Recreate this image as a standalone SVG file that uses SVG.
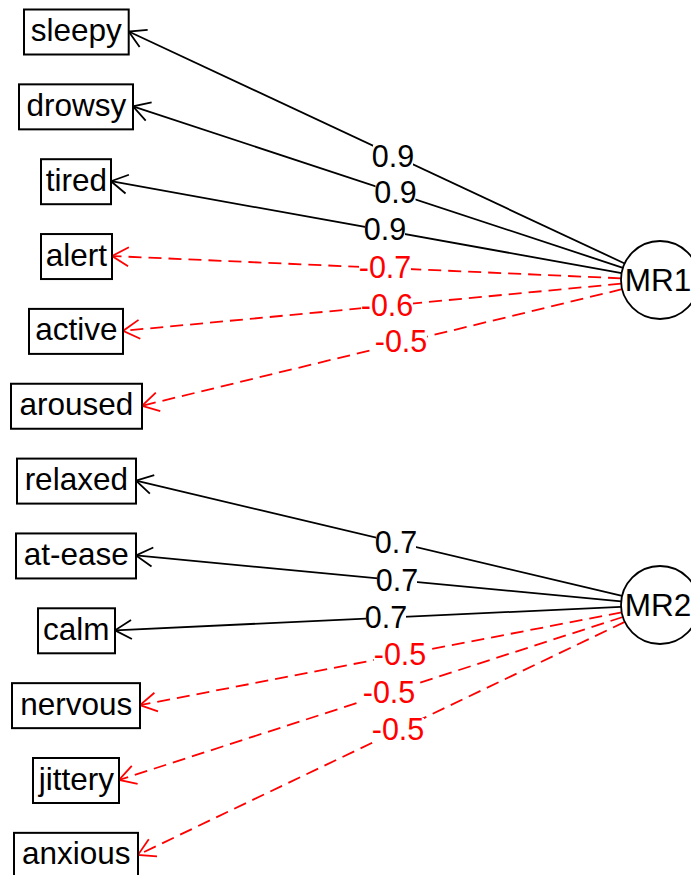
<svg xmlns="http://www.w3.org/2000/svg" width="691" height="875" viewBox="0 0 691 875">
<style>
.box{fill:#fff;stroke:#000;stroke-width:2}
.vt{font-family:"Liberation Sans",Arial,sans-serif;font-size:31.5px;text-anchor:middle;fill:#000}
.lb{font-family:"Liberation Sans",Arial,sans-serif;font-size:30.5px;text-anchor:middle}
.pos{fill:#000}
.neg{fill:#ff0000}
.bg{fill:#fff}
.ep{stroke:#000;stroke-width:1.8;fill:none;marker-end:url(#ab)}
.en{stroke:#ff0000;stroke-width:1.8;fill:none;stroke-dasharray:13 7;marker-end:url(#ar)}
.fac{fill:#fff;stroke:#000;stroke-width:1.8}
</style>
<defs>
<marker id="ab" markerUnits="userSpaceOnUse" orient="auto" markerWidth="40" markerHeight="40" refX="0" refY="0" viewBox="-20 -20 40 40" overflow="visible">
<path d="M-16.5,-9.5 L0,0 L-16.5,9.5" fill="none" stroke="#000" stroke-width="1.8"/>
</marker>
<marker id="ar" markerUnits="userSpaceOnUse" orient="auto" markerWidth="40" markerHeight="40" refX="0" refY="0" viewBox="-20 -20 40 40" overflow="visible">
<path d="M-16.5,-9.5 L0,0 L-16.5,9.5" fill="none" stroke="#ff0000" stroke-width="1.8"/>
</marker>
</defs>
<rect width="691" height="875" fill="#fff"/>
<g id="connectors">
<path class="ep" d="M624.67,263.48 L128.7,31.5"/>
<path class="ep" d="M622.96,267.80 L133,106.35"/>
<path class="ep" d="M621.62,273.09 L111,181.2"/>
<path class="en" d="M621.04,278.30 L112,256.05"/>
<path class="en" d="M621.17,283.68 L123,330.9"/>
<path class="en" d="M622.10,289.20 L142,405.75"/>
<path class="ep" d="M622.06,595.99 L136,480.6"/>
<path class="ep" d="M621.17,601.33 L136,555.45"/>
<path class="ep" d="M621.04,606.81 L115,630.3"/>
<path class="en" d="M621.71,612.38 L140,705.15"/>
<path class="en" d="M622.89,617.00 L119,780"/>
<path class="en" d="M624.82,621.84 L138,854.85"/>
</g>
<g id="labels">
<rect class="bg" x="373" y="145" width="40" height="25"/><text class="lb pos" x="393" y="167">0.9</text>
<rect class="bg" x="375.5" y="181" width="40" height="25"/><text class="lb pos" x="395.5" y="203">0.9</text>
<rect class="bg" x="365" y="218" width="40" height="25"/><text class="lb pos" x="385" y="240">0.9</text>
<rect class="bg" x="359" y="256" width="52" height="25"/><text class="lb neg" x="385" y="278">-0.7</text>
<rect class="bg" x="361" y="293.5" width="52" height="25"/><text class="lb neg" x="387" y="315.5">-0.6</text>
<rect class="bg" x="375" y="329.7" width="52" height="25"/><text class="lb neg" x="401" y="351.7">-0.5</text>
<rect class="bg" x="376" y="531" width="40" height="25"/><text class="lb pos" x="396" y="553">0.7</text>
<rect class="bg" x="377" y="568.7" width="40" height="25"/><text class="lb pos" x="397" y="590.7">0.7</text>
<rect class="bg" x="366" y="606" width="40" height="25"/><text class="lb pos" x="386" y="628">0.7</text>
<rect class="bg" x="374" y="643" width="52" height="25"/><text class="lb neg" x="400" y="665">-0.5</text>
<rect class="bg" x="363" y="680.7" width="52" height="25"/><text class="lb neg" x="389" y="702.7">-0.5</text>
<rect class="bg" x="372" y="718" width="52" height="25"/><text class="lb neg" x="398" y="740">-0.5</text>
</g>
<g id="sleepy"><rect class="box" x="24" y="9.5" width="104.7" height="45"/><text class="vt" x="76.3" y="41">sleepy</text></g>
<g id="drowsy"><rect class="box" x="19" y="84.35" width="114" height="45"/><text class="vt" x="76.3" y="115.85">drowsy</text></g>
<g id="tired"><rect class="box" x="41" y="159.2" width="70" height="45"/><text class="vt" x="76.3" y="190.7">tired</text></g>
<g id="alert"><rect class="box" x="41" y="234.05" width="71" height="45"/><text class="vt" x="76.3" y="265.55">alert</text></g>
<g id="active"><rect class="box" x="29" y="308.9" width="94" height="45"/><text class="vt" x="76.3" y="340.4">active</text></g>
<g id="aroused"><rect class="box" x="11" y="383.75" width="131" height="45"/><text class="vt" x="76.3" y="415.25">aroused</text></g>
<g id="relaxed"><rect class="box" x="17" y="458.6" width="119" height="45"/><text class="vt" x="76.3" y="490.1">relaxed</text></g>
<g id="at-ease"><rect class="box" x="16" y="533.45" width="120" height="45"/><text class="vt" x="76.3" y="564.95">at-ease</text></g>
<g id="calm"><rect class="box" x="38" y="608.3" width="77" height="45"/><text class="vt" x="76.3" y="639.8">calm</text></g>
<g id="nervous"><rect class="box" x="12" y="683.15" width="128" height="45"/><text class="vt" x="76.3" y="714.65">nervous</text></g>
<g id="jittery"><rect class="box" x="33" y="758" width="86" height="45"/><text class="vt" x="76.3" y="789.5">jittery</text></g>
<g id="anxious"><rect class="box" x="14" y="832.85" width="124" height="45"/><text class="vt" x="76.3" y="864.35">anxious</text></g>
<g id="MR1"><circle class="fac" cx="660" cy="280" r="39"/><text class="vt" x="658" y="291">MR1</text></g>
<g id="MR2"><circle class="fac" cx="660" cy="605" r="39"/><text class="vt" x="658" y="616">MR2</text></g>
</svg>
